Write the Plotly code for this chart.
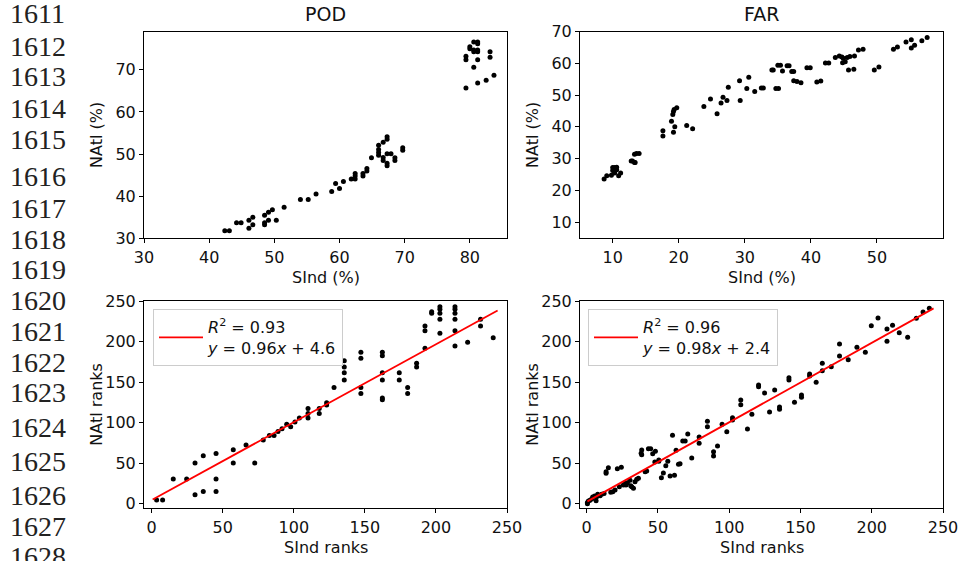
import plotly.graph_objects as go

# ---------------- data ----------------
pod_sind = [42.4, 43.1, 44.2, 44.9, 46.1, 46.1, 46.7, 46.7, 48.5, 48.5, 48.5, 49.1, 49.1, 49.7, 50.3,
            51.5, 54.0, 55.2, 56.4, 58.8, 59.4, 60.0, 60.6, 61.8, 62.4, 62.4, 62.4, 63.6, 63.6, 64.2,
            64.2, 64.9, 66.0, 66.0, 66.0, 66.0, 66.7, 66.7, 66.7, 67.3, 67.3, 67.3, 67.3, 67.3, 67.9,
            68.5, 68.5, 69.7, 69.7,
            79.4, 79.4, 79.4, 80.0, 80.0, 80.6, 80.6, 80.6, 80.6, 81.2, 81.2, 81.2, 81.2, 81.2, 81.2,
            82.5, 83.1, 83.1, 83.7]
pod_natl = [31.8, 31.8, 33.7, 33.7, 34.3, 32.4, 35.0, 33.2, 35.5, 33.7, 33.2, 36.2, 34.3, 36.8, 34.3,
            37.4, 39.2, 39.2, 40.5, 41.1, 43.0, 41.8, 43.5, 44.1, 44.8, 45.4, 44.1, 44.8, 45.4, 46.0,
            46.6, 49.1, 52.1, 51.1, 50.4, 49.7, 52.8, 49.2, 48.5, 54.1, 53.5, 50.1, 47.8, 47.2, 50.1,
            49.1, 48.5, 51.5, 50.9,
            73.2, 72.4, 65.7, 75.5, 75.0, 76.6, 74.7, 74.3, 70.6, 76.6, 76.2, 74.7, 74.3, 72.4, 66.9,
            67.5, 74.3, 73.0, 68.7]

far_sind = [8.7, 9.1, 9.8, 10.0, 10.3, 10.6, 10.0, 10.3, 10.6, 10.3, 10.9, 11.2, 12.8, 13.0, 13.4,
            13.3, 13.6, 14.0, 13.3, 17.6, 17.6, 18.9, 19.1, 19.2, 19.3, 19.7, 19.2, 19.4, 21.2, 22.1,
            23.8, 24.8, 25.8, 26.4, 26.7, 27.3, 27.5, 29.2, 29.3, 30.3, 30.6, 31.5, 32.5, 32.8, 34.1,
            34.3, 34.7, 35.1, 35.0, 35.4, 35.7, 36.4, 36.7, 37.1, 37.4, 37.4, 37.9, 38.5, 39.4, 39.9,
            40.9, 41.5, 42.2, 42.7, 43.7, 44.3, 44.7, 44.9, 45.5, 44.8, 45.2, 45.9, 45.7, 46.5, 46.6,
            47.2, 47.9, 49.6, 50.3, 52.5, 53.1, 54.4, 55.2, 55.2, 55.7, 56.8, 57.6]
far_natl = [23.6, 24.6, 24.8, 27.2, 27.2, 27.3, 26.3, 26.0, 26.5, 25.5, 24.6, 25.5, 29.3, 29.3, 28.8,
            31.4, 31.6, 31.6, 28.8, 38.8, 37.1, 41.8, 43.9, 44.8, 45.5, 46.0, 38.3, 40.0, 40.4, 39.4,
            46.4, 48.8, 44.1, 47.5, 49.3, 48.3, 52.5, 54.5, 48.3, 52.1, 55.6, 51.1, 52.2, 52.2, 57.9,
            57.9, 52.1, 52.1, 59.4, 59.4, 57.6, 59.2, 59.2, 57.4, 57.4, 54.5, 54.3, 53.9, 58.6, 58.6,
            54.1, 54.4, 60.1, 60.1, 61.8, 62.3, 62.0, 61.6, 61.8, 60.2, 60.5, 62.1, 57.9, 58.1, 62.3,
            64.2, 64.4, 57.9, 58.8, 64.4, 65.1, 66.7, 67.4, 64.8, 65.7, 67.1, 68.1]

pod_rank_sind = [3.5, 7.7, 15.2, 24.6, 30.5, 30.5, 36.3, 36.3, 45.3, 45.3, 45.3, 57.4, 57.4, 66.4, 72.5,
                 78.5, 82.8, 86.1, 88.9, 91.7, 95.0, 97.8, 100.8, 103.9, 110.0, 110.0, 110.0, 117.9, 117.9,
                 123.1, 123.1, 128.3, 135.5, 135.5, 135.5, 135.5, 147.2, 147.2, 147.2, 147.2, 162.3, 162.3,
                 162.3, 162.3, 162.3, 162.3, 174.2, 174.2, 180.1, 180.1, 186.4, 186.4, 192.3, 192.3, 192.3,
                 197.0, 197.0, 202.8, 202.8, 202.8, 202.8, 202.8, 213.4, 213.4, 213.4, 213.4, 213.4, 213.4,
                 222.3, 231.4, 231.4, 240.3]
pod_rank_natl = [4.5, 4.5, 30.4, 30.4, 50.2, 11.1, 59.2, 15.2, 62.1, 30.4, 15.2, 66.6, 50.2, 72.4, 50.2,
                 78.5, 84.3, 84.3, 89.2, 92.5, 97.9, 95.0, 100.7, 105.7, 105.7, 111.4, 117.6, 111.4, 117.6,
                 121.7, 124.6, 143.5, 152.6, 161.6, 168.6, 176.4, 136.1, 143.5, 179.3, 186.7, 128.3, 130.3,
                 152.6, 161.6, 182.6, 186.7, 152.6, 161.6, 136.1, 143.5, 168.6, 173.1, 191.6, 213.4, 219.2,
                 234.8, 236.8, 210.1, 227.4, 234.8, 239.7, 243.0, 194.5, 213.4, 227.4, 234.8, 239.7, 243.0,
                 199.0, 227.4, 219.2, 204.8]

far_rank_sind = [240.4, 236.0, 231.3, 225.2, 219.3, 214.6, 210.7, 210.7, 204.4, 199.7, 195.5, 189.6, 183.5,
                 177.4, 177.4, 171.6, 165.3, 165.3, 161.0, 156.4, 156.4, 150.7, 150.7, 145.8, 141.9, 141.9,
                 135.3, 135.3, 131.9, 128.3, 124.8, 120.6, 120.6, 115.9, 112.8, 108.1, 108.1, 102.3, 102.3,
                 98.3, 95.0, 91.8, 89.0, 89.0, 84.7, 84.7, 78.9, 78.9, 73.7, 70.9, 67.4, 69.1, 65.5, 64.4,
                 62.7, 60.2, 61.6, 58.5, 56.9, 55.5, 53.8, 52.4, 50.6, 50.6, 48.2, 47.8, 46.3, 43.3, 44.9,
                 41.0, 42.1, 38.6, 38.2, 38.6, 35.1, 36.3, 33.9, 31.6, 32.8, 30.9, 30.4, 28.6, 27.2, 25.7,
                 27.6, 24.3, 21.5, 22.9, 19.9, 18.3, 16.9, 15.2, 13.6, 13.6, 12.2, 10.5, 9.4, 7.7, 7.0,
                 5.6, 4.2, 3.5, 2.3, 0.5, 1.2, 0.5, 6.6]
far_rank_natl = [241.0, 236.4, 228.6, 205.2, 210.9, 220.0, 215.5, 200.2, 229.0, 219.6, 186.7, 192.8, 177.6,
                 197.0, 182.2, 169.0, 173.1, 164.1, 149.7, 160.0, 157.5, 134.0, 131.2, 125.0, 155.4, 152.6,
                 119.2, 116.4, 140.2, 113.1, 136.5, 146.4, 144.3, 110.2, 92.1, 127.9, 122.1, 106.1, 103.2,
                 88.8, 97.9, 71.1, 64.1, 58.8, 101.6, 95.0, 82.2, 74.4, 56.3, 85.9, 77.3, 77.3, 49.3, 48.5,
                 65.8, 84.3, 35.0, 34.1, 52.2, 46.9, 37.8, 32.1, 53.9, 52.2, 64.6, 51.4, 61.7, 67.8, 67.8,
                 39.5, 40.3, 66.2, 62.1, 60.4, 30.0, 31.3, 27.1, 21.0, 18.9, 22.2, 28.8, 25.9, 25.1, 23.0,
                 23.0, 44.8, 43.2, 21.0, 16.9, 14.8, 14.0, 44.4, 39.5, 37.4, 12.7, 11.5, 9.9, 11.5, 8.6,
                 9.5, 8.2, 5.8, 4.1, 1.6, 3.3, 0.0, 3.7]

# regression fits (slope, intercept, R^2) and line extent
pod_fit = (0.96, 4.6, 0.93)
far_fit = (0.98, 2.4, 0.96)
pod_fit_x = [0.7, 243.4]
far_fit_x = [0.5, 243.4]

panel_titles = ["POD", "FAR"]
x_titles = ["SInd (%)", "SInd (%)", "SInd ranks", "SInd ranks"]
y_titles = ["NAtl (%)", "NAtl (%)", "NAtl ranks", "NAtl ranks"]
line_numbers = list(range(1611, 1629))
line_number_y = [14, 46, 77, 108, 140, 176, 208, 239, 270, 300, 331, 362, 392, 427, 461, 495, 526, 556]

# ---------------- figure ----------------
W, H = 962, 561
def px_x(p): return p / W
def px_y(p): return 1 - p / H

fig = go.Figure()
black = "black"
txt = "#111111"
mk = dict(color=black, size=5)

fig.add_trace(go.Scatter(x=pod_sind, y=pod_natl, mode="markers", marker=mk, xaxis="x", yaxis="y", showlegend=False))
fig.add_trace(go.Scatter(x=far_sind, y=far_natl, mode="markers", marker=mk, xaxis="x2", yaxis="y2", showlegend=False))
fig.add_trace(go.Scatter(x=pod_rank_sind, y=pod_rank_natl, mode="markers", marker=mk, xaxis="x3", yaxis="y3", showlegend=False))
fig.add_trace(go.Scatter(x=far_rank_sind, y=far_rank_natl, mode="markers", marker=mk, xaxis="x4", yaxis="y4", showlegend=False))

for fit, fx, xa, ya, lg in [(pod_fit, pod_fit_x, "x3", "y3", "legend"), (far_fit, far_fit_x, "x4", "y4", "legend2")]:
    m, b, r2 = fit
    fig.add_trace(go.Scatter(
        x=fx, y=[m * v + b for v in fx], mode="lines", line=dict(color="red", width=1.8),
        xaxis=xa, yaxis=ya, legend=lg, showlegend=True,
        name=f"<i>R</i><sup>2</sup> = {r2:.2f}<br><i>y</i> = {m:.2f}<i>x</i> + {b:.1f}"))

font = "DejaVu Sans"
FS = 16
L_PX, R_PX = (144, 507), (580, 943)
T_PX, B_PX = (31.5, 238.3), (301, 508.3)
left_dom = [px_x(L_PX[0]), px_x(L_PX[1])]
right_dom = [px_x(R_PX[0]), px_x(R_PX[1])]
top_dom = [px_y(T_PX[1]), px_y(T_PX[0])]
bot_dom = [px_y(B_PX[1]), px_y(B_PX[0])]

def ax(dom, rng, tickvals, anchor):
    return dict(domain=dom, range=rng, tickvals=tickvals, anchor=anchor,
                showline=True, linecolor=black, linewidth=1, mirror=True,
                ticks="outside", ticklen=4, tickwidth=1, tickcolor=black,
                showgrid=False, zeroline=False, automargin=False,
                tickfont=dict(family=font, size=FS, color=txt))

legend_style = dict(xanchor="left", yanchor="top", bgcolor="rgba(255,255,255,0.8)",
                    bordercolor="#cccccc", borderwidth=1, itemwidth=44,
                    font=dict(family=font, size=FS, color=txt))

fig.update_layout(
    width=W, height=H, margin=dict(l=0, r=0, t=0, b=0, autoexpand=False),
    paper_bgcolor="white", plot_bgcolor="white",
    xaxis=ax(left_dom, [30, 85.7], [30, 40, 50, 60, 70, 80], "y"),
    yaxis=ax(top_dom, [30, 79.1], [30, 40, 50, 60, 70], "x"),
    xaxis2=ax(right_dom, [5.05, 60], [10, 20, 30, 40, 50], "y2"),
    yaxis2=ax(top_dom, [4.95, 70], [10, 20, 30, 40, 50, 60, 70], "x2"),
    xaxis3=ax(left_dom, [-5.4, 250], [0, 50, 100, 150, 200, 250], "y3"),
    yaxis3=ax(bot_dom, [-5.6, 250], [0, 50, 100, 150, 200, 250], "x3"),
    xaxis4=ax(right_dom, [-4.7, 250], [0, 50, 100, 150, 200, 250], "y4"),
    yaxis4=ax(bot_dom, [-5.7, 250], [0, 50, 100, 150, 200, 250], "x4"),
    legend=dict(x=px_x(153), y=px_y(309), **legend_style),
    legend2=dict(x=px_x(588), y=px_y(309), **legend_style),
)

def note(text, xp, yp, size=FS, angle=0, family=font, xanchor="center", color=txt):
    fig.add_annotation(text=text, x=px_x(xp), y=px_y(yp), xref="paper", yref="paper",
                       xanchor=xanchor, yanchor="middle", showarrow=False, textangle=angle,
                       font=dict(family=family, size=size, color=color))

# panel titles
for t, (a, b) in zip(panel_titles, [L_PX, R_PX]):
    note(t, (a + b) / 2, 14, size=19)

# axis titles
panels = [(L_PX, T_PX), (R_PX, T_PX), (L_PX, B_PX), (R_PX, B_PX)]
for (xp, yp), xt, yt in zip(panels, x_titles, y_titles):
    note(xt, (xp[0] + xp[1]) / 2, yp[1] + 39, size=FS)
    note(yt, xp[0] - 47, (yp[0] + yp[1]) / 2, size=FS, angle=-90)

# margin line numbers
for n, yy in zip(line_numbers, line_number_y):
    note(str(n), 8, yy, size=28, family="Liberation Serif", xanchor="left", color="#222222")

fig.write_html("out.html", post_script="document.body.style.margin='0';document.body.style.overflow='hidden';")
